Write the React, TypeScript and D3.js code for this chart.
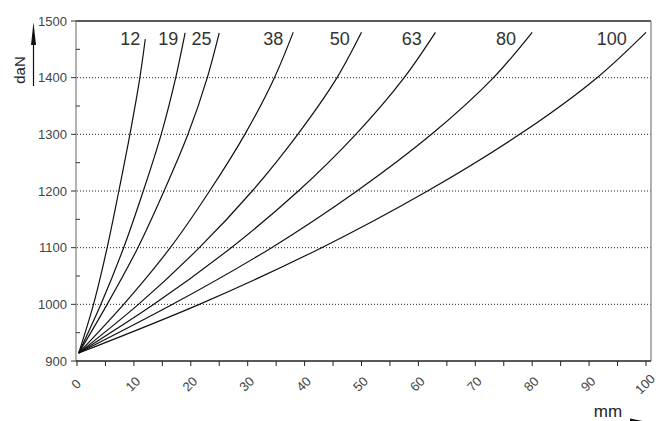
import React from "react";
import * as d3 from "d3";

// Curve labels (nominal stroke, mm)
const curveLabels = ["12", "19", "25", "38", "50", "63", "80", "100"];
// Force levels (daN) at which the deflection was read
const forceLevels = [914, 1000, 1100, 1200, 1300, 1400];
// Deflection in mm per curve at the force levels above
const mm12 = [0.3, 2.9, 5.3, 7.35, 9.3, 11.05];
const mm19 = [0.3, 4.2, 8.2, 11.65, 14.8, 17.35];
const mm25 = [0.3, 5.3, 10.7, 15.3, 19.5, 22.9];
const mm38 = [0.3, 8.2, 16.4, 23.3, 29.5, 34.7];
const mm50 = [0.3, 10.8, 21.5, 30.8, 38.8, 45.7];
const mm63 = [0.3, 13.5, 27.1, 38.9, 49.0, 57.5];
const mm80 = [0.3, 16.8, 34.2, 49.2, 62.3, 73.2];
const mm100 = [0.3, 21.5, 43.0, 61.6, 77.8, 91.4];
// Curve end points
const endMm = [12, 19, 25, 38, 50, 63, 80, 100];
const endForce = [1468, 1479, 1479, 1480, 1480, 1480, 1480, 1480];

const yTicks = [900, 1000, 1100, 1200, 1300, 1400, 1500];
const yMinorTicks = [950, 1050, 1150, 1250, 1350, 1450];
const xTicks = [0, 10, 20, 30, 40, 50, 60, 70, 80, 90, 100];
const xMinorTicks = d3.range(0, 101, 5);

const allMm = [mm12, mm19, mm25, mm38, mm50, mm63, mm80, mm100];

export default function App() {
  const W = 662;
  const H = 421;
  const x = d3.scaleLinear().domain([0, 100]).range([77, 646]);
  const y = d3.scaleLinear().domain([900, 1500]).range([361, 21]);
  const right = 651;

  const line = d3
    .line<[number, number]>()
    .x((d) => x(d[0]))
    .y((d) => y(d[1]))
    .curve(d3.curveMonotoneY);

  const font = "'Liberation Sans', Arial, sans-serif";

  return (
    <svg
      width={W}
      height={H}
      viewBox={`0 0 ${W} ${H}`}
      style={{ position: "absolute", left: 0, top: 0, background: "#fff" }}
    >
      {/* gridlines */}
      {yTicks
        .filter((t) => t > 900 && t < 1500)
        .map((t) => (
          <line key={"g" + t} x1={x(0)} x2={right} y1={y(t)} y2={y(t)} stroke="#222" strokeWidth={1} strokeDasharray="1,2" />
        ))}
      {/* frame */}
      <line x1={x(0) - 1} x2={right} y1={y(1500)} y2={y(1500)} stroke="#222" strokeWidth={1.3} />
      <line x1={right} x2={right} y1={y(1500)} y2={y(900)} stroke="#888" strokeWidth={1.3} />
      <line x1={x(0) - 1} x2={x(0) - 1} y1={y(1500)} y2={y(900)} stroke="#888" strokeWidth={1.3} />
      <line x1={x(0) - 1} x2={right} y1={y(900)} y2={y(900)} stroke="#222" strokeWidth={1.3} />
      {/* y ticks */}
      {yTicks.map((t) => (
        <g key={"yt" + t}>
          <line x1={x(0) - 6} x2={x(0) - 1} y1={y(t)} y2={y(t)} stroke="#333" strokeWidth={1} />
          <text x={67} y={y(t)} dy="0.35em" textAnchor="end" fontFamily={font} fontSize={13} fill="#444">
            {t}
          </text>
        </g>
      ))}
      {yMinorTicks.map((t) => (
        <line key={"ym" + t} x1={x(0) - 1} x2={x(0) + 3} y1={y(t)} y2={y(t)} stroke="#333" strokeWidth={1} />
      ))}
      {/* x ticks */}
      {xMinorTicks.map((t) => (
        <line key={"xm" + t} x1={x(t)} x2={x(t)} y1={y(900)} y2={y(900) + 5} stroke="#222" strokeWidth={1} />
      ))}
      {xTicks.map((t) => (
        <text
          key={"xl" + t}
          transform={`translate(${x(t) - 1},${384}) rotate(-45)`}
          textAnchor="middle"
          dy="0.35em"
          fontFamily={font}
          fontSize={13}
          fill="#444"
        >
          {t}
        </text>
      ))}
      {/* curves */}
      {allMm.map((arr, i) => {
        const pts: [number, number][] = arr.map((m, j) => [m, forceLevels[j]] as [number, number]);
        pts.push([endMm[i], endForce[i]]);
        return <path key={"c" + i} d={line(pts) || ""} fill="none" stroke="#111" strokeWidth={1.2} />;
      })}
      {/* curve labels */}
      {curveLabels.map((lab, i) => {
        const arr = allMm[i];
        const mAt = arr[5] + (endMm[i] - arr[5]) * ((1455 - 1400) / (endForce[i] - 1400));
        return (
          <text key={"l" + i} x={x(mAt) - 4} y={45} textAnchor="end" fontFamily={font} fontSize={18} fill="#333">
            {lab}
          </text>
        );
      })}
      {/* axis titles */}
      <text transform="translate(25,70) rotate(-90)" textAnchor="middle" fontFamily={font} fontSize={15} fill="#222">
        daN
      </text>
      <line x1={33.5} x2={33.5} y1={86} y2={42} stroke="#111" strokeWidth={1.2} />
      <path d="M31,45 L33.5,22 L36,45 Z" fill="#111" />
      <text x={608} y={417} textAnchor="middle" fontFamily={font} fontSize={17} fill="#222">
        mm
      </text>
      <line x1={600} x2={630} y1={422.5} y2={422.5} stroke="#111" strokeWidth={1.2} />
      <path d="M630,418.5 L650,422.5 L630,426.5 Z" fill="#111" />
    </svg>
  );
}
